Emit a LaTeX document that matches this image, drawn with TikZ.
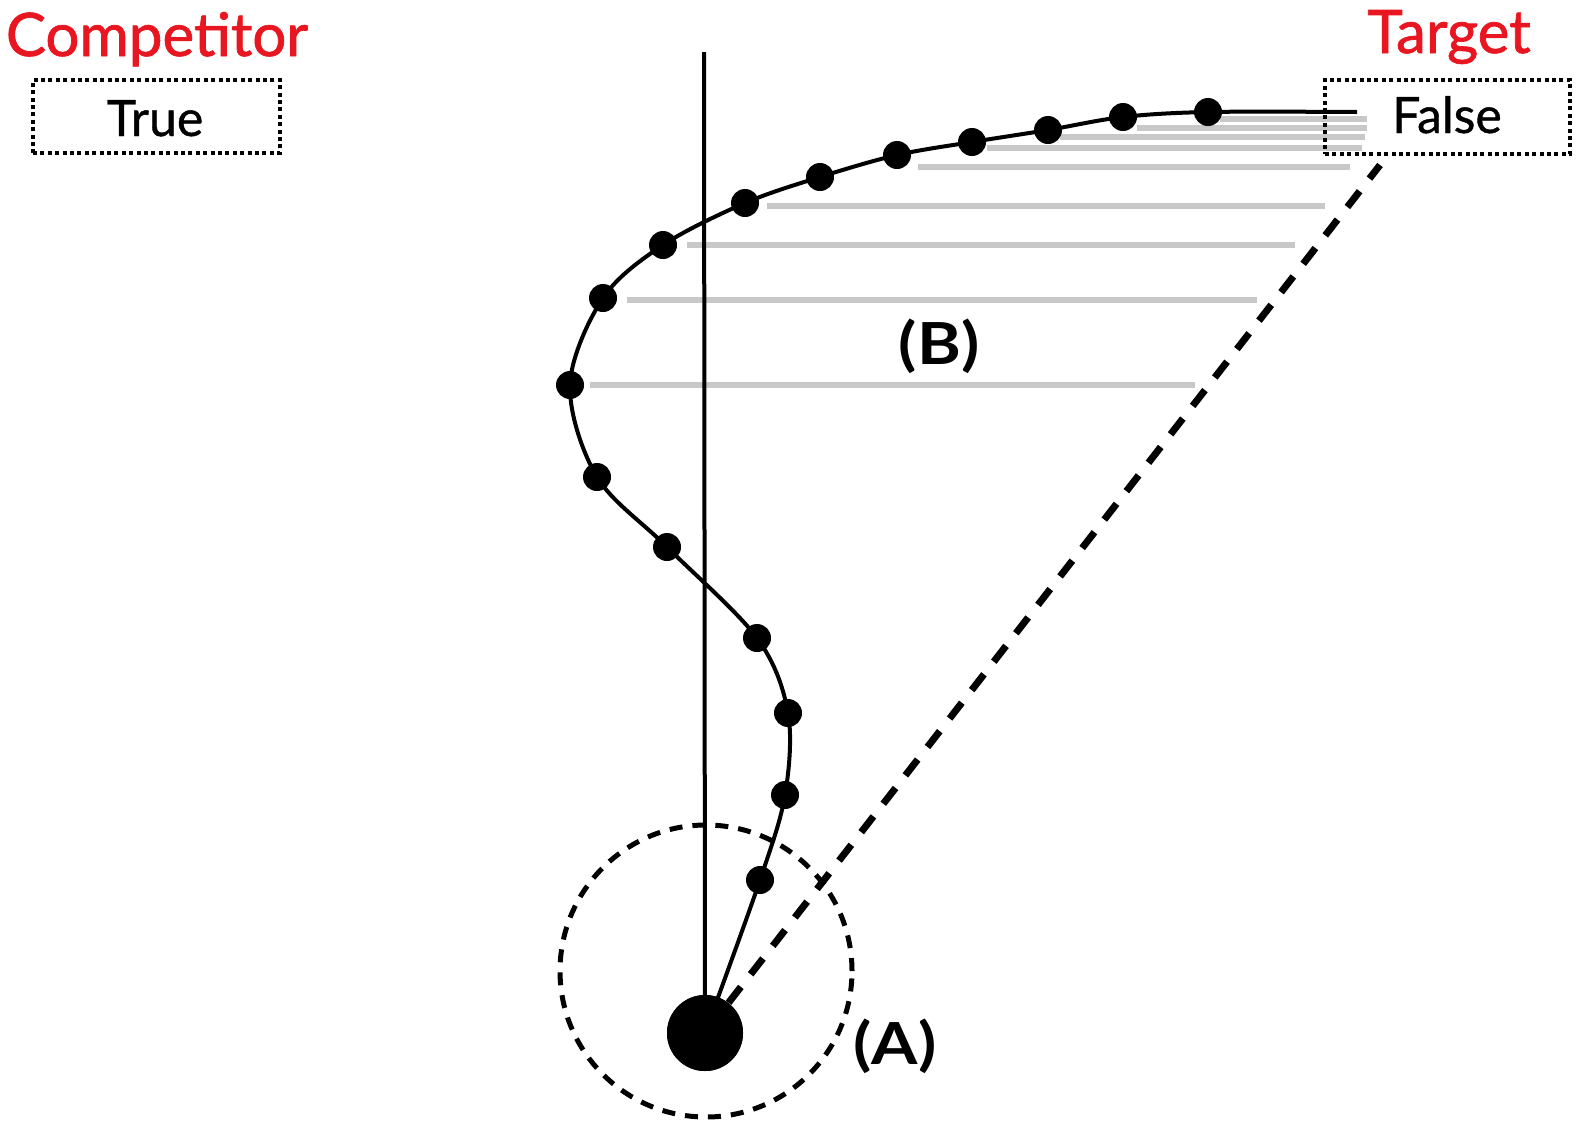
\documentclass[tikz,border=0pt]{standalone}
\usepackage{fontspec}
\setmainfont{Lato}
\newfontfamily\labelfont[FakeBold=1.2]{Lato}
\newfontfamily\boxfont[FakeBold=0.8]{Lato}
\newfontfamily\letterfont[FakeStretch=1.15]{Lato Bold}
\definecolor{compred}{RGB}{232,22,32}
\definecolor{hatchgray}{RGB}{200,200,200}
\begin{document}
\begin{tikzpicture}[x=0.5pt,y=-0.5pt,
  redlabel/.style={text=compred,inner sep=0pt,anchor=base,font=\labelfont\fontsize{30}{33}\selectfont},
  boxtext/.style={inner sep=0pt,anchor=base,font=\boxfont\fontsize{25}{28}\selectfont},
  letterlabel/.style={inner sep=0pt,anchor=base,font=\letterfont\fontsize{29}{32}\selectfont},
  dotbox/.style={draw,line width=2pt,dash pattern=on 2pt off 1.7pt,inner sep=0pt},
  hatch/.style={draw=hatchgray,line width=3pt},
  traj/.style={line width=2pt},
  sample/.style={circle,fill=black,inner sep=0pt,minimum size=14pt},
  bigdot/.style={circle,fill=black,inner sep=0pt,minimum size=38pt},
  zonecircle/.style={circle,draw,line width=2.5pt,dash pattern=on 6.5pt off 5pt,inner sep=0pt,minimum size=146pt},
  dashline/.style={line width=3.5pt,dash pattern=on 10pt off 8pt},
  axisline/.style={line width=2pt}]
\useasboundingbox (0,0) rectangle (1582,1125);

% gray hatching of area (B)
\foreach \y/\xa/\xb in {385/590/1195, 300/627/1257, 245/687/1295, 206/767/1325,
  167/918/1350, 148/987/1362, 137/1060/1365, 128/1137/1367, 119/1220/1367}
  {\draw[hatch] (\xa,\y) -- (\xb,\y);}

% positions
\coordinate (vtop) at (704,52);
\coordinate (tend) at (1380,165);
\coordinate (cend) at (1357,112);
\node[bigdot] (start) at (705,1033) {};
\node[zonecircle] (zone) at (706,971) {};

% straight reference line and dashed ideal line
\draw[axisline] (vtop) -- (start.center);
\draw[dashline] (start) -- (tend);

% sample points
\foreach \n/\x/\y in {1/760/880, 2/785/795, 3/788/713, 4/757/638, 5/667/547,
  6/597/477, 7/570/385, 8/603/298, 9/663/245, 10/745/203, 11/820/177,
  12/897/155, 13/972/142, 14/1048/130, 15/1123/117, 16/1208/112}
  {\coordinate (c\n) at (\x,\y);}

% trajectory
\draw[traj] plot[smooth,tension=0.55] coordinates {(start.center) (c1) (c2) (c3) (c4) (c5) (c6) (c7) (c8) (c9) (c10) (c11) (c12) (c13) (c14) (c15) (c16) (cend)};

\foreach \n in {1,...,16} {\node[sample] (p\n) at (c\n) {};}
\node[bigdot] at (start) {};

% response boxes
\node[dotbox,minimum width=123.5pt,minimum height=36.5pt] (truebox) at (156.5,116.5) {};
\node[dotbox,minimum width=122.5pt,minimum height=37pt] (falsebox) at (1447.5,117) {};
\node[boxtext] (truetext) at (155,136) {True};
\node[boxtext] (falsetext) at (1447,133) {False};

\node[redlabel] (comp) at (157,56) {Competitor};
\node[redlabel] (targ) at (1449,53) {Target};

\node[letterlabel] (labB) at (939,364) {(B)};
\node[letterlabel] (labA) at (895,1064) {(A)};
\end{tikzpicture}
\end{document}
